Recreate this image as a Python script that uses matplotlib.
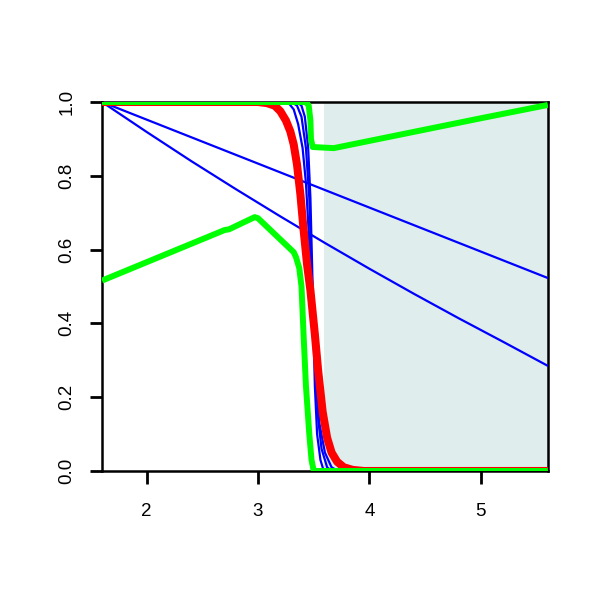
import matplotlib
matplotlib.use("Agg")
import matplotlib.pyplot as plt

plt.rcParams['font.family'] = ['Liberation Sans', 'DejaVu Sans']

# ---- data ----
x_range = [1.6, 5.6]
shade_x = [3.59, 5.6]

# straight-ish blue lines
blue_line1_x = [1.6, 5.6]
blue_line1_y = [1.0, 0.523]
blue_line2_x = [1.6, 2.0, 2.4, 2.8, 3.2, 3.6, 4.0, 4.4, 4.8, 5.2, 5.6]
blue_line2_y = [1.0, 0.919, 0.840, 0.764, 0.690, 0.618, 0.548, 0.480, 0.414, 0.350, 0.285]

# steep blue sigmoids
blue_s1_x = [1.6, 3.22, 3.28, 3.32, 3.36, 3.40, 3.43, 3.46, 3.48, 3.50, 3.52, 3.55, 3.60, 3.66, 3.72, 5.6]
blue_s1_y = [1.0, 1.0, 0.995, 0.98, 0.94, 0.875, 0.78, 0.62, 0.50, 0.38, 0.25, 0.13, 0.05, 0.01, 0.0, 0.0]
blue_s2_x = [1.6, 3.30, 3.35, 3.39, 3.43, 3.46, 3.48, 3.50, 3.52, 3.54, 3.57, 3.62, 3.66, 5.6]
blue_s2_y = [1.0, 1.0, 0.99, 0.96, 0.875, 0.74, 0.55, 0.40, 0.26, 0.14, 0.06, 0.01, 0.0, 0.0]
blue_s3_x = [1.6, 3.35, 3.39, 3.42, 3.45, 3.47, 3.49, 3.50, 3.51, 3.53, 3.56, 3.59, 5.6]
blue_s3_y = [1.0, 1.0, 0.99, 0.96, 0.875, 0.74, 0.50, 0.35, 0.23, 0.10, 0.03, 0.0, 0.0]

# red sigmoid
red_x = [1.6, 3.0, 3.08, 3.15, 3.20, 3.25, 3.29, 3.32, 3.35, 3.38, 3.41, 3.44, 3.47, 3.51, 3.54,
         3.58, 3.62, 3.66, 3.71, 3.77, 3.85, 3.95, 5.6]
red_y = [1.0, 1.0, 0.997, 0.99, 0.975, 0.95, 0.92, 0.885, 0.83, 0.75, 0.65, 0.56, 0.49, 0.37, 0.27,
         0.16, 0.09, 0.05, 0.025, 0.01, 0.003, 0.0, 0.0]

# green curves
green_up_x = [1.6, 3.43, 3.455, 3.47, 3.475, 3.49, 3.68, 5.0, 5.6]
green_up_y = [1.0, 1.0, 0.99, 0.95, 0.90, 0.878, 0.875, 0.956, 0.992]
green_lo_x = [1.6, 2.70, 2.74, 2.97, 3.00, 3.32, 3.34, 3.37, 3.39, 3.41, 3.43, 3.46, 3.48, 3.50, 5.6]
green_lo_y = [0.516, 0.653, 0.655, 0.688, 0.685, 0.593, 0.58, 0.55, 0.50, 0.36, 0.23, 0.10, 0.03, 0.0, 0.0]

x_ticks = [2, 3, 4, 5]
y_ticks = [0.0, 0.2, 0.4, 0.6, 0.8, 1.0]
y_ticklabels = ["0.0", "0.2", "0.4", "0.6", "0.8", "1.0"]

fig = plt.figure(figsize=(6, 6), dpi=100)
ax = fig.add_axes([0.17, 0.215, 0.743, 0.615])

ax.axvspan(shade_x[0], shade_x[1], color='#e0eded', lw=0, zorder=0)

blue = '#0000ff'
for xs, ys in [(blue_line1_x, blue_line1_y), (blue_line2_x, blue_line2_y),
               (blue_s1_x, blue_s1_y), (blue_s2_x, blue_s2_y), (blue_s3_x, blue_s3_y)]:
    ax.plot(xs, ys, color=blue, lw=1.6, zorder=2, solid_joinstyle='round')

ax.plot(red_x, red_y, color='#ff0000', lw=5.8, zorder=3, solid_capstyle='butt', solid_joinstyle='round')
ax.plot(green_up_x, green_up_y, color='#00ff00', lw=4.3, zorder=4, solid_capstyle='butt', solid_joinstyle='round')
ax.plot(green_lo_x, green_lo_y, color='#00ff00', lw=4.3, zorder=4, solid_capstyle='butt', solid_joinstyle='round')

ax.set_xlim(x_range)
ax.set_ylim(0, 1)
ax.set_xticks(x_ticks)
ax.set_xticklabels([str(t) for t in x_ticks])
ax.set_yticks(y_ticks)
ax.set_yticklabels(y_ticklabels, rotation=90, va='center')
ax.tick_params(axis='both', direction='out', length=9, width=2, labelsize=13.5, color='black')
ax.tick_params(axis='x', pad=14)
ax.tick_params(axis='y', pad=10)
for s in ax.spines.values():
    s.set_linewidth(1.8)
    s.set_color('black')
    s.set_zorder(1)

fig.savefig("out.png", dpi=100)
